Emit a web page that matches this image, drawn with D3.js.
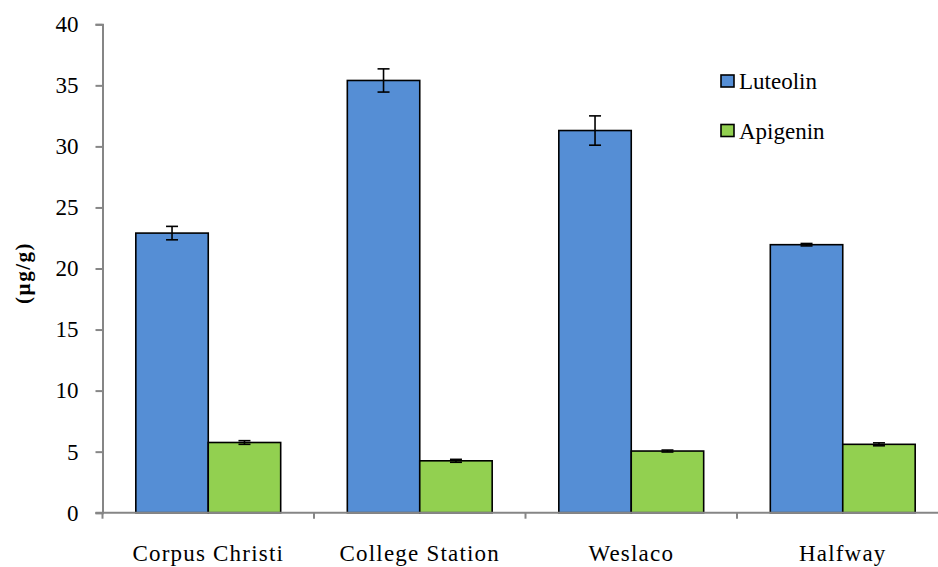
<!DOCTYPE html>
<html>
<head>
<meta charset="utf-8">
<script src="https://cdn.jsdelivr.net/npm/d3@7"></script>
<style>
  body { margin: 0; background: #fff; }
  svg text { font-family: "Times New Roman", Times, "Liberation Serif", "DejaVu Serif", serif; }
</style>
</head>
<body>
<div id="viz-container"></div>
<script>
const categories = ["Corpus Christi", "College Station", "Weslaco", "Halfway"];
const seriesNames = ["Luteolin", "Apigenin"];
const luteolin = [22.9, 35.4, 31.3, 21.95];
const luteolinErr = [0.55, 0.95, 1.2, 0.1];
const apigenin = [5.75, 4.25, 5.05, 5.6];
const apigeninErr = [0.15, 0.12, 0.08, 0.12];
const yTicks = [0, 5, 10, 15, 20, 25, 30, 35, 40];

const width = 938;
const height = 567;
const marginLeft = 102.5;
const axisY = 512.7;
const topY = 24.3;

const colors = {Luteolin: "#558ED5", Apigenin: "#92D050"};

const table = categories.map((c, i) => ({
  category: c,
  values: [
    {key: "Luteolin", value: luteolin[i], err: luteolinErr[i]},
    {key: "Apigenin", value: apigenin[i], err: apigeninErr[i]}
  ]
}));

const svg = d3.select("#viz-container")
  .append("svg")
  .attr("width", width)
  .attr("height", height);

const x0 = d3.scaleBand()
  .domain(categories)
  .range([marginLeft, marginLeft + 4 * 211.5]);

const x1 = d3.scaleBand()
  .domain(seriesNames)
  .range([0, x0.bandwidth()])
  .paddingOuter(0.46);

const y = d3.scaleLinear()
  .domain([0, 40])
  .range([axisY, topY]);

// y axis
const yAxis = svg.append("g")
  .attr("transform", `translate(${marginLeft},0)`)
  .call(d3.axisLeft(y).tickValues(yTicks).tickSize(7).tickPadding(17));
yAxis.attr("font-family", null);
yAxis.select(".domain").attr("stroke", "#868686").attr("stroke-width", 2);
yAxis.selectAll(".tick line").attr("stroke", "#868686").attr("stroke-width", 2);
yAxis.selectAll(".tick text")
  .attr("font-size", 23)
  .attr("fill", "#000");

// bars
const groups = svg.append("g")
  .selectAll("g")
  .data(table)
  .join("g")
  .attr("transform", d => `translate(${x0(d.category)},0)`);

groups.selectAll("rect")
  .data(d => d.values)
  .join("rect")
  .attr("x", d => x1(d.key))
  .attr("y", d => y(d.value))
  .attr("width", x1.bandwidth())
  .attr("height", d => y(0) - y(d.value))
  .attr("fill", d => colors[d.key])
  .attr("stroke", "#000")
  .attr("stroke-width", 1.6);

// error bars
const eb = groups.selectAll("g.err")
  .data(d => d.values)
  .join("g")
  .attr("class", "err")
  .attr("stroke", "#000")
  .attr("stroke-width", 1.6);
eb.append("line")
  .attr("x1", d => x1(d.key) + x1.bandwidth() / 2)
  .attr("x2", d => x1(d.key) + x1.bandwidth() / 2)
  .attr("y1", d => y(d.value + d.err))
  .attr("y2", d => y(d.value - d.err));
eb.append("line")
  .attr("x1", d => x1(d.key) + x1.bandwidth() / 2 - 6)
  .attr("x2", d => x1(d.key) + x1.bandwidth() / 2 + 6)
  .attr("y1", d => y(d.value + d.err))
  .attr("y2", d => y(d.value + d.err));
eb.append("line")
  .attr("x1", d => x1(d.key) + x1.bandwidth() / 2 - 6)
  .attr("x2", d => x1(d.key) + x1.bandwidth() / 2 + 6)
  .attr("y1", d => y(d.value - d.err))
  .attr("y2", d => y(d.value - d.err));

// x axis
svg.append("line")
  .attr("x1", marginLeft - 7)
  .attr("x2", width)
  .attr("y1", y(0))
  .attr("y2", y(0))
  .attr("stroke", "#868686")
  .attr("stroke-width", 2);
svg.append("g")
  .selectAll("line")
  .data(categories)
  .join("line")
  .attr("x1", d => x0(d))
  .attr("x2", d => x0(d))
  .attr("y1", y(0))
  .attr("y2", y(0) + 6)
  .attr("stroke", "#868686")
  .attr("stroke-width", 2);

svg.append("g")
  .selectAll("text")
  .data(categories)
  .join("text")
  .attr("x", d => x0(d) + x0.bandwidth() / 2)
  .attr("y", 561)
  .attr("text-anchor", "middle")
  .attr("font-size", 23)
  .attr("letter-spacing", 1.2)
  .text(d => d);

// y label
svg.append("text")
  .attr("transform", "translate(30,273) rotate(-90)")
  .attr("text-anchor", "middle")
  .attr("font-size", 21)
  .attr("font-weight", "bold")
  .attr("letter-spacing", 1.5)
  .text("(µg/g)");

// legend
const legend = svg.append("g")
  .selectAll("g")
  .data(seriesNames)
  .join("g")
  .attr("transform", (d, i) => `translate(721,${75 + i * 49.5})`);
legend.append("rect")
  .attr("width", 13)
  .attr("height", 12)
  .attr("fill", d => colors[d])
  .attr("stroke", "#000")
  .attr("stroke-width", 1.6);
legend.append("text")
  .attr("x", 18)
  .attr("y", 14)
  .attr("font-size", 23)
  .text(d => d);
</script>
</body>
</html>
